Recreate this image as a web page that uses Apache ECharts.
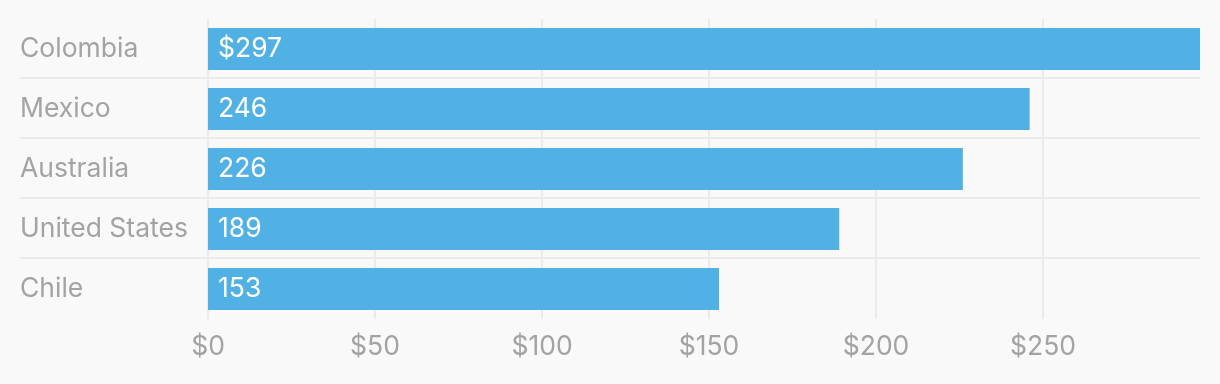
<!DOCTYPE html>
<html>
<head>
<meta charset="utf-8">
<script src="https://cdn.jsdelivr.net/npm/echarts@6/dist/echarts.min.js"></script>
<style>
html,body{margin:0;padding:0;background:#f9f9f9;}
#chart{width:1220px;height:384px;}
</style>
</head>
<body>
<div id="chart"></div>
<script>
const categories = ['Colombia', 'Mexico', 'Australia', 'United States', 'Chile'];
const values = [297, 246, 226, 189, 153];
const xTickStep = 50;

const FONT = 'Inter';
const FS = 26.5;
const chart = echarts.init(document.getElementById('chart'));
chart.setOption({
  backgroundColor: '#f9f9f9',
  animation: false,
  grid: [
    { left: 20, right: 20, top: 18, height: 300 },
    { left: 208, right: 20, top: 19, height: 300 }
  ],
  xAxis: [
    { gridIndex: 0, type: 'value', show: false, min: 0, max: 1 },
    {
      gridIndex: 1, type: 'value', min: 0, max: Math.max(...values), interval: xTickStep,
      axisLine: { show: false }, axisTick: { show: false },
      axisLabel: {
        color: '#a3a3a3', fontFamily: FONT, fontSize: FS, margin: 15,
        showMaxLabel: false,
        formatter: v => '$' + v
      },
      splitLine: { show: true, showMaxLine: false, lineStyle: { color: '#ebebeb', width: 2 } }
    }
  ],
  yAxis: [
    {
      gridIndex: 0, type: 'category', data: categories, inverse: true,
      axisLine: { show: false }, axisTick: { show: false }, axisLabel: { show: false },
      splitLine: { show: true, showMinLine: false, showMaxLine: false, lineStyle: { color: '#ebebeb', width: 2 } }
    },
    {
      gridIndex: 1, type: 'category', data: categories, inverse: true,
      axisLine: { show: false }, axisTick: { show: false },
      axisLabel: { color: '#a3a3a3', fontFamily: FONT, fontSize: FS, align: 'left', margin: 188, padding: [0, 0, 6, 0] },
      splitLine: { show: false }
    }
  ],
  series: [{
    type: 'bar',
    xAxisIndex: 1, yAxisIndex: 1,
    data: values,
    barCategoryGap: '30%',
    itemStyle: { color: '#51b1e4' },
    label: {
      show: true, position: 'insideLeft', distance: 10,
      color: '#ffffff', fontFamily: FONT, fontSize: FS,
      formatter: p => (p.dataIndex === 0 ? '$' : '') + p.value
    }
  }]
});
</script>
</body>
</html>
